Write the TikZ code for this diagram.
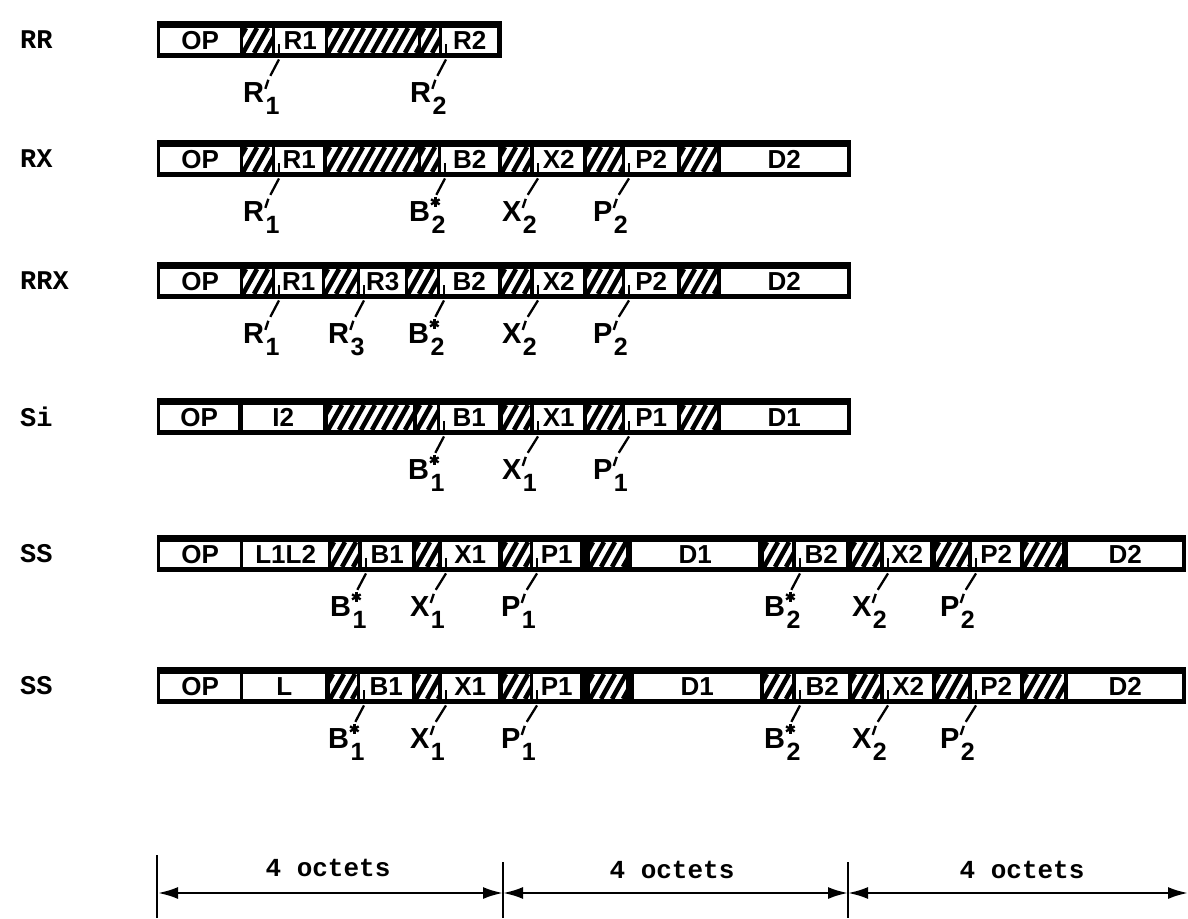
\documentclass[tikz,border=0pt]{standalone}
\usepackage{fontspec}
\usetikzlibrary{arrows.meta}
\newfontfamily\fieldfont{Liberation Sans}
\newfontfamily\monofont{Liberation Mono}

\begin{document}
\begin{tikzpicture}[x=1pt,y=-1pt,
  fld/.style={fill=white, inner sep=0pt, anchor=north west, minimum height=25pt,
    font=\fieldfont\bfseries\fontsize{26}{26}\selectfont},
  lab/.style={inner sep=0pt, anchor=base west, font=\fieldfont\bfseries\fontsize{29}{29}\selectfont},
  idx/.style={inner sep=0pt, anchor=base west, font=\fieldfont\bfseries\fontsize{25}{25}\selectfont},
  rowlab/.style={inner sep=0pt, anchor=west, font=\monofont\bfseries\fontsize{27}{27}\selectfont},
  tk/.style={line width=2.8pt},
  ld/.style={line width=2.3pt},
  mk/.style={line width=2.4pt},
  dim/.style={line width=2.4pt},
  dimarrow/.style={line width=2.4pt, {Latex[length=20pt,width=12pt]}-{Latex[length=20pt,width=12pt]}},
  octet/.style={inner sep=0pt, font=\monofont\bfseries\fontsize{26}{26}\selectfont}]

\useasboundingbox (0,0) rectangle (1188,918);

% ---- building blocks -------------------------------------------------
% black instruction bar
\newcommand\instrbar[2]{\fill (#1,\yt) rectangle (#2,\yt+37);}
% hatched (unused) part of a byte
\newcommand\hatchfld[2]{%
  \fill[white] (#1,\yt+7) rectangle (#2,\yt+32);
  \begin{scope}
    \clip (#1,\yt+7) rectangle (#2,\yt+32);
    \foreach \s in {-22,-11,...,120}
      \draw[line width=4.6pt] ({#1+\s},\yt+32) -- ({#1+\s+14},\yt+7);
  \end{scope}}
% plain field
\newcommand\plainfld[4]{\node[fld, minimum width={#3-#2}] (#1) at (#2,\yt+7) {#4};}
% prime and star marks at the top right of a register letter
\newcommand\markprime[1]{\draw[mk] ([xshift=1pt,yshift=-7pt]#1.north east) -- ([xshift=4pt,yshift=2pt]#1.north east);}
\newcommand\markstar[1]{%
  \coordinate (#1-c) at ([xshift=5pt,yshift=-1pt]#1.north east);
  \foreach \a in {90,30,-30}
    \draw[mk] ([shift={(\a:5pt)}]#1-c) -- ([shift={(\a+180:5pt)}]#1-c);}
% register field: tick, leader and the register name underneath
% #1 name, #2-#3 extent, #4 field text, #5 letter, #6 mark macro, #7 index
\newcommand\regfld[7]{%
  \node[fld, minimum width={#3-#2}] (#1) at (#2,\yt+7) {#4};
  \draw[tk] ([xshift=4pt,yshift=9pt]#1.south west) -- ([xshift=4pt,yshift=-5pt]#1.south west);
  \coordinate (#1-t) at ([xshift=4pt,yshift=-6pt]#1.south west);
  \node[lab] (#1-l) at (#2-32,\yt+37+44) {#5};
  \node[idx] (#1-n) at ([xshift=1pt,yshift=-12pt]#1-l.base east) {#7};
  #6{#1-l}
  \draw[ld] (#1-t) -- ([xshift=6pt,yshift=6pt]#1-l.north east);}

% ---- RR --------------------------------------------------------------
\def\yt{21}
\node[rowlab] (rr) at (20,\yt+19) {RR};
\instrbar{157}{502}
\plainfld{rr-op}{160}{240}{OP}
\hatchfld{243}{272}
\regfld{rr-r1}{275}{325}{R1}{R}{\markprime}{1}
\hatchfld{328}{418}
\hatchfld{421}{439}
\regfld{rr-r2}{442}{497}{R2}{R}{\markprime}{2}

% ---- RX --------------------------------------------------------------
\def\yt{140}
\node[rowlab] (rx) at (20,\yt+19) {RX};
\instrbar{157}{851}
\plainfld{rx-op}{160}{240}{OP}
\hatchfld{243}{272}
\regfld{rx-r1}{275}{323}{R1}{R}{\markprime}{1}
\hatchfld{327}{418}
\hatchfld{421}{438}
\regfld{rx-b2}{441}{498}{B2}{B}{\markstar}{2}
\hatchfld{502}{530}
\regfld{rx-x2}{534}{583}{X2}{X}{\markprime}{2}
\hatchfld{587}{622}
\regfld{rx-p2}{625}{677}{P2}{P}{\markprime}{2}
\hatchfld{681}{717}
\plainfld{rx-d2}{721}{847}{D2}

% ---- RRX -------------------------------------------------------------
\def\yt{262}
\node[rowlab] (rrx) at (20,\yt+19) {RRX};
\instrbar{157}{851}
\plainfld{rrx-op}{160}{240}{OP}
\hatchfld{243}{272}
\regfld{rrx-r1}{275}{322}{R1}{R}{\markprime}{1}
\hatchfld{325}{357}
\regfld{rrx-r3}{360}{405}{R3}{R}{\markprime}{3}
\hatchfld{408}{437}
\regfld{rrx-b2}{440}{498}{B2}{B}{\markstar}{2}
\hatchfld{502}{530}
\regfld{rrx-x2}{534}{583}{X2}{X}{\markprime}{2}
\hatchfld{587}{622}
\regfld{rrx-p2}{625}{677}{P2}{P}{\markprime}{2}
\hatchfld{681}{717}
\plainfld{rrx-d2}{721}{847}{D2}

% ---- SI --------------------------------------------------------------
\def\yt{398}
\node[rowlab] (si) at (20,\yt+19) {Si};
\instrbar{157}{851}
\plainfld{si-op}{160}{238}{OP}
\plainfld{si-i2}{243}{323}{I2}
\hatchfld{328}{413}
\hatchfld{417}{437}
\regfld{si-b1}{440}{498}{B1}{B}{\markstar}{1}
\hatchfld{503}{530}
\regfld{si-x1}{534}{583}{X1}{X}{\markprime}{1}
\hatchfld{587}{622}
\regfld{si-p1}{625}{677}{P1}{P}{\markprime}{1}
\hatchfld{681}{717}
\plainfld{si-d1}{721}{847}{D1}

% ---- SS (two lengths) ------------------------------------------------
\def\yt{535}
\node[rowlab] (ssa) at (20,\yt+19) {SS};
\instrbar{157}{1186}
\plainfld{ssa-op}{160}{240}{OP}
\plainfld{ssa-l}{243}{328}{L1L2}
\hatchfld{331}{358}
\regfld{ssa-b1}{362}{412}{B1}{B}{\markstar}{1}
\hatchfld{416}{438}
\regfld{ssa-x1}{442}{498}{X1}{X}{\markprime}{1}
\hatchfld{503}{530}
\regfld{ssa-p1}{533}{580}{P1}{P}{\markprime}{1}
\hatchfld{590}{626}
\plainfld{ssa-d1}{632}{758}{D1}
\hatchfld{764}{792}
\regfld{ssa-b2}{796}{846}{B2}{B}{\markstar}{2}
\hatchfld{852}{880}
\regfld{ssa-x2}{884}{930}{X2}{X}{\markprime}{2}
\hatchfld{936}{968}
\regfld{ssa-p2}{972}{1020}{P2}{P}{\markprime}{2}
\hatchfld{1024}{1062}
\plainfld{ssa-d2}{1068}{1182}{D2}

% ---- SS (one length) -------------------------------------------------
\def\yt{667}
\node[rowlab] (ssb) at (20,\yt+19) {SS};
\instrbar{157}{1186}
\plainfld{ssb-op}{160}{240}{OP}
\plainfld{ssb-l}{243}{325}{L}
\hatchfld{330}{357}
\regfld{ssb-b1}{360}{412}{B1}{B}{\markstar}{1}
\hatchfld{416}{438}
\regfld{ssb-x1}{442}{498}{X1}{X}{\markprime}{1}
\hatchfld{503}{530}
\regfld{ssb-p1}{533}{580}{P1}{P}{\markprime}{1}
\hatchfld{590}{626}
\plainfld{ssb-d1}{634}{760}{D1}
\hatchfld{764}{792}
\regfld{ssb-b2}{796}{848}{B2}{B}{\markstar}{2}
\hatchfld{852}{880}
\regfld{ssb-x2}{884}{932}{X2}{X}{\markprime}{2}
\hatchfld{936}{968}
\regfld{ssb-p2}{972}{1020}{P2}{P}{\markprime}{2}
\hatchfld{1024}{1064}
\plainfld{ssb-d2}{1068}{1182}{D2}

% ---- byte scale ------------------------------------------------------
\coordinate (m0) at (157,855);  \coordinate (n0) at (157,918);
\coordinate (m1) at (503,862);  \coordinate (n1) at (503,918);
\coordinate (m2) at (848,862);  \coordinate (n2) at (848,918);
\draw[dim] (m0) -- (n0);
\draw[dim] (m1) -- (n1);
\draw[dim] (m2) -- (n2);
\coordinate (d0) at (158,893);
\coordinate (d1) at (503,893);
\coordinate (d2) at (848,893);
\coordinate (d3) at (1188,893);
\draw[dimarrow] (d0) -- (d1);
\draw[dimarrow] (d1) -- (d2);
\draw[dimarrow] (d2) -- (d3);
\node[octet] (o1) at (328,868) {4 octets};
\node[octet] (o2) at (672,870) {4 octets};
\node[octet] (o3) at (1022,870) {4 octets};
\end{tikzpicture}
\end{document}
